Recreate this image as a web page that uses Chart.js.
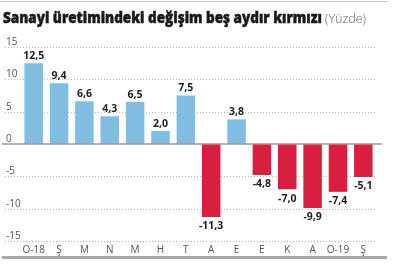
<!DOCTYPE html>
<html><head><meta charset="utf-8">
<script src="https://cdn.jsdelivr.net/npm/chart.js@4.4.0/dist/chart.umd.min.js"></script>
<style>html,body{margin:0;padding:0;background:#fff;}#wrap{width:400px;height:264px;position:relative;}</style>
</head><body><div id="wrap"><canvas id="c" width="400" height="264"></canvas></div>
<script>
const categories = ["O-18","Ş","M","N","M","H","T","A","E","E","K","A","O-19","Ş"];
const values = [12.5, 9.4, 6.6, 4.3, 6.5, 2.0, 7.5, -11.3, 3.8, -4.8, -7.0, -9.9, -7.4, -5.1];
const yTicks = [15, 10, 5, 0, -5, -10, -15];
const titleMain = "Sanayi üretimindeki değişim beş aydır kırmızı";
const titleSub = "(Yüzde)";

const BLUE = "#80bde0", RED = "#d91f40";
const fmt = v => v.toFixed(1).replace(".", ",");

const decor = {
  id: "decor",
  beforeDatasetsDraw(chart) {
    const ctx = chart.ctx, y = chart.scales.y, a = chart.chartArea;
    ctx.save();
    ctx.strokeStyle = "#c8c8c8"; ctx.lineWidth = 1;
    ctx.beginPath(); ctx.moveTo(0, 1.5); ctx.lineTo(388, 1.5); ctx.stroke();
    ctx.textBaseline = "alphabetic"; ctx.textAlign = "left";
    ctx.font = "800 16px 'Open Sans'";
    const w = ctx.measureText(titleMain).width;
    const sx = 319 / w;
    ctx.save(); ctx.translate(3, 23); ctx.scale(sx, 1);
    ctx.fillStyle = "#1a1a1a"; ctx.fillText(titleMain, 0, 0);
    ctx.strokeStyle = "#1a1a1a"; ctx.lineWidth = 0.5; ctx.strokeText(titleMain, 0, 0);
    ctx.restore();
    ctx.font = "300 12px 'Open Sans'"; ctx.fillStyle = "#666";
    const w2 = ctx.measureText(titleSub).width;
    ctx.save(); ctx.translate(325, 23); ctx.scale(41 / w2, 1); ctx.fillText(titleSub, 0, 0); ctx.restore();
    ctx.font = "10px 'Open Sans'"; ctx.fillStyle = "#555"; ctx.textBaseline = "middle";
    yTicks.forEach(t => {
      const py = Math.round(y.getPixelForValue(t));
      if (t !== 0) {
        ctx.strokeStyle = "#b5b5b5"; ctx.lineWidth = 1; ctx.setLineDash([1, 2]);
        ctx.beginPath(); ctx.moveTo(5, py + 0.5); ctx.lineTo(a.right, py + 0.5); ctx.stroke();
        ctx.setLineDash([]);
      }
      ctx.fillText(String(t), 6, py - 5);
    });
    ctx.restore();
  },
  afterDatasetsDraw(chart) {
    const ctx = chart.ctx, y = chart.scales.y;
    const meta = chart.getDatasetMeta(0);
    ctx.save();
    const py = y.getPixelForValue(0);
    ctx.strokeStyle = "#9a9a9a"; ctx.lineWidth = 1.5;
    ctx.beginPath(); ctx.moveTo(2, py); ctx.lineTo(382, py); ctx.stroke();
    ctx.font = "700 10.5px 'Open Sans'"; ctx.fillStyle = "#222"; ctx.textAlign = "center";
    meta.data.forEach((bar, i) => {
      const v = values[i];
      if (v >= 0) { ctx.textBaseline = "bottom"; ctx.fillText(fmt(v), bar.x, bar.y - 2); }
      else { ctx.textBaseline = "top"; ctx.fillText(fmt(v), bar.x, bar.y + 4); }
    });
    ctx.fillStyle = "#a8a8a8"; ctx.fillRect(2, 256, 385, 3);
    ctx.restore();
  }
};

new Chart(document.getElementById("c"), {
  type: "bar",
  data: {
    labels: categories,
    datasets: [{
      data: values,
      backgroundColor: values.map(v => v >= 0 ? BLUE : RED),
      barPercentage: 0.73,
      categoryPercentage: 1
    }]
  },
  options: {
    responsive: false,
    animation: false,
    events: [],
    layout: { padding: { left: 21, right: 24, top: 47, bottom: 5 } },
    plugins: { legend: { display: false }, tooltip: { enabled: false } },
    scales: {
      y: { display: false, min: -15, max: 15 },
      x: {
        grid: { display: false, drawTicks: false },
        border: { display: false },
        ticks: { color: "#555", font: { family: "'Open Sans'", size: 10 }, padding: 3, maxRotation: 0, autoSkip: false }
      }
    }
  },
  plugins: [decor]
});
</script></body></html>
